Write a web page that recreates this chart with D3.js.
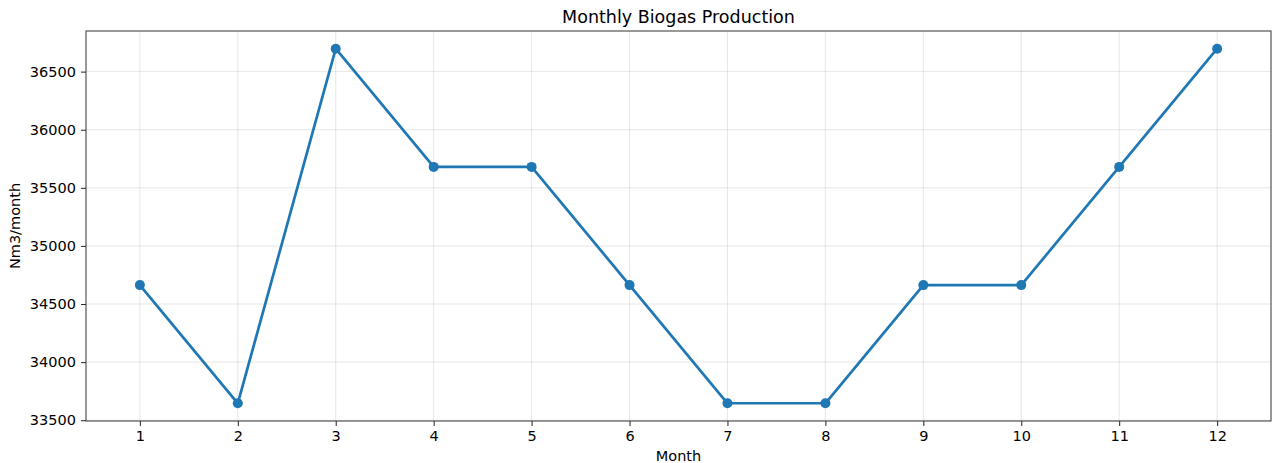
<!DOCTYPE html>
<html>
<head>
<meta charset="utf-8">
<script src="https://cdn.jsdelivr.net/npm/d3@7"></script>
<style>
  body { margin: 0; background: #fff; }
  text { font-family: "DejaVu Sans", sans-serif; fill: #000; }
</style>
</head>
<body>
<div id="chart"></div>
<script>
const months = [1, 2, 3, 4, 5, 6, 7, 8, 9, 10, 11, 12];
const production = [34663, 33646, 36697, 35680, 35680, 34663, 33646, 33646, 34663, 34663, 35680, 36697];
const yTicks = [33500, 34000, 34500, 35000, 35500, 36000, 36500];

const width = 1272, height = 463;
const margin = { top: 31, right: 1, bottom: 42, left: 86 };
const innerW = width - margin.left - margin.right;
const innerH = height - margin.top - margin.bottom;

const svg = d3.select("#chart").append("svg")
  .attr("width", width)
  .attr("height", height);

const g = svg.append("g")
  .attr("transform", `translate(${margin.left},${margin.top})`);

// matplotlib style 5% padding
const xPad = (d3.max(months) - d3.min(months)) * 0.05;
const [ymin, ymax] = d3.extent(production);
const yPad = (ymax - ymin) * 0.05;

const x = d3.scaleLinear()
  .domain([d3.min(months) - xPad, d3.max(months) + xPad])
  .range([0, innerW]);
const y = d3.scaleLinear()
  .domain([ymin - yPad, ymax + yPad])
  .range([innerH, 0]);

// grid
g.append("g").selectAll("line").data(months).join("line")
  .attr("x1", d => x(d)).attr("x2", d => x(d))
  .attr("y1", 0).attr("y2", innerH)
  .attr("stroke", "#b0b0b0").attr("stroke-opacity", 0.3).attr("stroke-width", 1);
g.append("g").selectAll("line").data(yTicks).join("line")
  .attr("x1", 0).attr("x2", innerW)
  .attr("y1", d => y(d)).attr("y2", d => y(d))
  .attr("stroke", "#b0b0b0").attr("stroke-opacity", 0.3).attr("stroke-width", 1);

// axes
const xAxis = g.append("g")
  .attr("transform", `translate(0,${innerH})`)
  .call(d3.axisBottom(x).tickValues(months).tickSize(5).tickPadding(5).tickFormat(d3.format("d")));
const yAxis = g.append("g")
  .call(d3.axisLeft(y).tickValues(yTicks).tickSize(5).tickPadding(5).tickFormat(d3.format("d")));
[xAxis, yAxis].forEach(a => {
  a.select(".domain").remove();
  a.selectAll("text").style("font-size", "14.5px").style("font-family", "DejaVu Sans").attr("fill", "#000");
  a.selectAll(".tick line").attr("stroke", "#222");
});

// frame
g.append("rect")
  .attr("x", 0).attr("y", 0)
  .attr("width", innerW).attr("height", innerH)
  .attr("fill", "none").attr("stroke", "#333").attr("stroke-width", 1);

// line + markers
const line = d3.line()
  .x((d, i) => x(months[i]))
  .y(d => y(d));

g.append("path")
  .datum(production)
  .attr("d", line)
  .attr("fill", "none")
  .attr("stroke", "#1f77b4")
  .attr("stroke-width", 2.7)
  .attr("stroke-linejoin", "round");

g.selectAll("circle.pt").data(production).join("circle")
  .attr("class", "pt")
  .attr("cx", (d, i) => x(months[i]))
  .attr("cy", d => y(d))
  .attr("r", 5)
  .attr("fill", "#1f77b4");

// labels
svg.append("text")
  .attr("x", margin.left + innerW / 2).attr("y", 23)
  .attr("text-anchor", "middle")
  .style("font-size", "17.5px")
  .text("Monthly Biogas Production");

svg.append("text")
  .attr("x", margin.left + innerW / 2).attr("y", 461)
  .attr("text-anchor", "middle")
  .style("font-size", "14.5px")
  .text("Month");

svg.append("text")
  .attr("transform", `translate(20,${margin.top + innerH / 2}) rotate(-90)`)
  .attr("text-anchor", "middle")
  .style("font-size", "14.5px")
  .text("Nm3/month");
</script>
</body>
</html>
